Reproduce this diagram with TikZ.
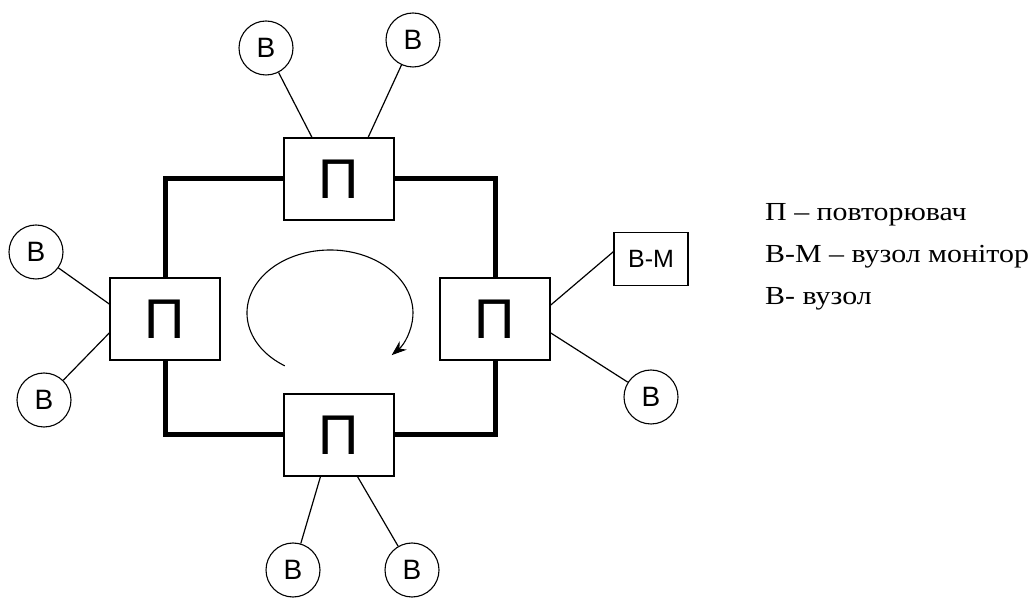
\documentclass[tikz,border=0pt]{standalone}
\usepackage{fontspec}
\setmainfont{Liberation Serif}
\newfontfamily\arialfont{Liberation Sans}
\newfontfamily\legfont[FakeStretch=1.15]{Liberation Serif}
\usetikzlibrary{arrows.meta}

\begin{document}
\begin{tikzpicture}[x=1pt,y=1pt,>={Stealth[length=15pt,width=11pt]},
  rep/.style={draw,line width=1.2pt,minimum width=110pt,minimum height=82pt,inner sep=0pt,font=\arialfont\fontsize{56}{56}\selectfont},
  st/.style={circle,draw,line width=1.1pt,minimum size=54pt,inner sep=0pt,font=\arialfont\fontsize{28}{28}\selectfont},
  mon/.style={draw,line width=1.2pt,minimum width=74pt,minimum height=53pt,inner sep=0pt,font=\arialfont\fontsize{25}{25}\selectfont},
  ring/.style={line width=5pt},
  tap/.style={line width=1.2pt},
  turn/.style={->,line width=1.1pt},
  leg/.style={anchor=base west,inner sep=0pt,font=\legfont\fontsize{26}{26}\selectfont}]
  \useasboundingbox (0,0) rectangle (1036,597);
  % repeaters on the ring
  \node[rep] (pt) at (339,418) {П};
  \node[rep] (pl) at (165,278) {П};
  \node[rep] (pr) at (495,278) {П};
  \node[rep] (pb) at (339,162) {П};
  \draw[ring] (pl) |- (pt);
  \draw[ring] (pt) -| (pr);
  \draw[ring] (pr) |- (pb);
  \draw[ring] (pb) -| (pl);
  % stations
  \node[st] (bt1) at (266,549) {В};
  \node[st] (bt2) at (413,557) {В};
  \node[st] (bl1) at (36,345) {В};
  \node[st] (bl2) at (44,197) {В};
  \node[st] (br) at (651,200) {В};
  \node[st] (bb1) at (293,27) {В};
  \node[st] (bb2) at (412,27) {В};
  \node[mon] (bm) at (651,338) {В-М};
  \draw[tap] (bt1) -- (pt.123);
  \draw[tap] (bt2) -- (pt.55);
  \draw[tap] (bl1) -- (pl.165);
  \draw[tap] (bl2) -- (pl.194);
  \draw[tap] (bm.169) -- (pr.14);
  \draw[tap] (br) -- (pr.-14);
  \draw[tap] (bb1) -- (pb.246);
  \draw[tap] (bb2) -- (pb.294);
  % direction of the token
  \coordinate (rc) at (330,284);
  \draw[turn] ([shift={(237:83 and 63)}]rc) arc[start angle=237,end angle=-42,x radius=83,y radius=63];
  % legend
  \node[leg] (l1) at (765,376) {П – повторювач};
  \node[leg] (l2) at (765,334) {В-М – вузол монітор};
  \node[leg] (l3) at (765,292) {В- вузол};
\end{tikzpicture}
\end{document}
